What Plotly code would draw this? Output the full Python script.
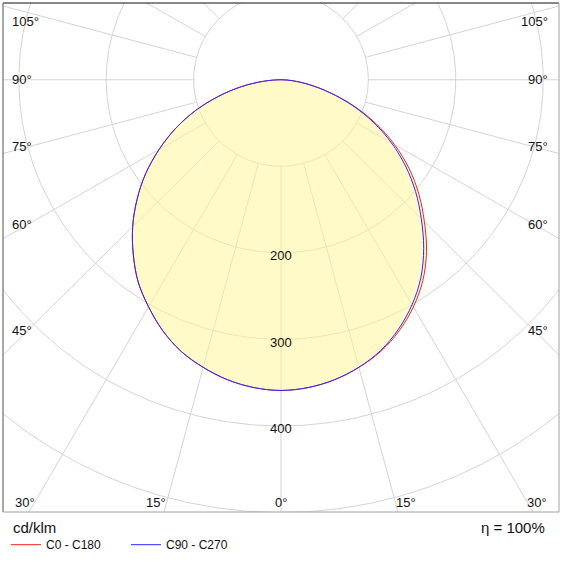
import numpy as np
import plotly.graph_objects as go

# ---------------- data (cd/klm) ----------------
GAMMA = [0, 5, 10, 15, 20, 25, 30, 35, 40, 45, 50, 55, 60, 65, 70, 75, 80, 85, 90]
C0 = [359, 357, 352, 344, 334, 320, 303, 283, 259, 232, 206, 179, 150, 120, 89, 59, 34, 14, 0]
C90 = [359, 357, 352, 344, 333, 318, 300, 279, 254, 227, 201, 174, 146, 117, 87, 58, 33, 13, 0]
C180 = [359, 357, 352, 344, 334, 320, 303, 285, 263, 240, 215, 189, 161, 133, 104, 74, 46, 20, 0]
C270 = [359, 357, 352, 344, 334, 320, 303, 285, 263, 240, 215, 189, 161, 133, 104, 74, 46, 20, 0]
SERIES_NAMES = ["C0 - C180", "C90 - C270"]
RING_VALUES = [100, 200, 300, 400, 500]
RING_LABELS = [200, 300, 400]
SPOKE_ANGLES = list(range(0, 181, 15))
ANGLE_LABELS = [0, 15, 30, 45, 60, 75, 90, 105]
UNIT_TEXT = "cd/klm"
ETA_TEXT = "η = 100%"

# ---------------- geometry ----------------
W = H = 562
BOX_L, BOX_R, BOX_T, BOX_B = 3, 559, 3, 517
CX, CY = 281, 80.5          # pixel position of the luminaire centre
S = 0.874                   # px per cd/klm
X_RANGE = [(BOX_L - CX) / S, (BOX_R - CX) / S]
Y_RANGE = [-(BOX_B - CY) / S, (CY - BOX_T) / S]

FONT = "Liberation Sans, Arial, sans-serif"
GRID = "#d4d4d4"
RED = "#ff2020"
BLUE = "#2a2aff"

g = np.radians(GAMMA)


def closed_curve(right, left):
    r = np.array(right, float)
    l = np.array(left, float)
    xr, yr = r * np.sin(g), -r * np.cos(g)
    xl, yl = -l * np.sin(g), -l * np.cos(g)
    x = np.concatenate([xr[::-1], xl[1:]])
    y = np.concatenate([yr[::-1], yl[1:]])
    return x, y


fig = go.Figure()

# grid rings
t = np.radians(np.linspace(0, 360, 721))
for rv in RING_VALUES:
    fig.add_trace(go.Scatter(x=rv * np.sin(t), y=rv * np.cos(t), mode="lines",
                             line=dict(color=GRID, width=1), hoverinfo="skip",
                             showlegend=False))
# spokes (start at the first ring)
for a in SPOKE_ANGLES:
    for sgn in ([1] if a in (0, 180) else [1, -1]):
        ar = np.radians(a)
        rr = np.array([RING_VALUES[0], 1000])
        fig.add_trace(go.Scatter(x=sgn * rr * np.sin(ar), y=-rr * np.cos(ar), mode="lines",
                                 line=dict(color=GRID, width=1), hoverinfo="skip",
                                 showlegend=False))

# fill under curves
fx, fy = closed_curve(C0, C180)
fig.add_trace(go.Scatter(x=fx, y=fy, mode="lines", fill="toself", line=dict(width=0, shape="spline"),
                         fillcolor="rgba(255,246,150,0.52)", hoverinfo="skip",
                         showlegend=False))

# photometric curves
x1, y1 = closed_curve(C0, C180)
fig.add_trace(go.Scatter(x=x1, y=y1, mode="lines", name=SERIES_NAMES[0],
                         line=dict(color=RED, width=1, shape="spline")))
x2, y2 = closed_curve(C90, C270)
fig.add_trace(go.Scatter(x=x2, y=y2, mode="lines", name=SERIES_NAMES[1],
                         line=dict(color=BLUE, width=1, shape="spline")))

ann = []
# ring value labels along the 0° axis (slightly below the ring)
for rv in RING_LABELS:
    ann.append(dict(x=0, y=-rv - 3 / S, xref="x", yref="y", text=str(rv), showarrow=False,
                    font=dict(size=13, color="#111", family=FONT),
                    xanchor="center", yanchor="middle"))

# angle labels
side_dx = 253 / S           # inset from the centre for side labels (data units)
bottom_dy = (507 - CY) / S  # depth of the bottom label row (data units)
bottom_sp = (503 - CY) / S  # depth where spokes meet the bottom label row
top_limit = (CY - 22) / S
for a in ANGLE_LABELS:
    ar = np.radians(a)
    lab = f"{a}°"
    if a == 0:
        ann.append(dict(x=0, y=-bottom_dy, text=lab, xanchor="center"))
        continue
    y_side = -side_dx / np.tan(ar)
    if -y_side < (BOX_B - 15 - CY) / S:
        y_side = min(y_side, top_limit)
        ann.append(dict(x=(BOX_L + 7 - CX) / S, y=y_side, text=lab, xanchor="left"))
        ann.append(dict(x=(BOX_R - 9 - CX) / S, y=y_side, text=lab, xanchor="right"))
    else:
        xb = bottom_sp * np.tan(ar)
        ann.append(dict(x=-xb, y=-bottom_dy, text=lab, xanchor="right"))
        ann.append(dict(x=xb, y=-bottom_dy, text=lab, xanchor="left"))
for a_ in ann[len(RING_LABELS):]:
    a_.update(xref="x", yref="y", showarrow=False, yanchor="middle",
              font=dict(size=13, color="#111", family=FONT))

# footer texts
ann.append(dict(x=(11 - BOX_L) / (BOX_R - BOX_L), y=(BOX_B - 533) / (BOX_B - BOX_T),
                xref="paper", yref="paper", text=UNIT_TEXT, showarrow=False,
                xanchor="left", yanchor="middle", font=dict(size=15, color="#111", family=FONT)))
ann.append(dict(x=(547 - BOX_L) / (BOX_R - BOX_L), y=(BOX_B - 533) / (BOX_B - BOX_T),
                xref="paper", yref="paper", text=ETA_TEXT, showarrow=False,
                xanchor="right", yanchor="middle", font=dict(size=15, color="#111", family=FONT)))

# frame
shapes = [
    dict(type="line", xref="paper", yref="paper", x0=0, x1=1, y0=1, y1=1, line=dict(color="#111", width=1)),
    dict(type="line", xref="paper", yref="paper", x0=0, x1=0, y0=0, y1=1, line=dict(color="#555", width=1)),
    dict(type="line", xref="paper", yref="paper", x0=1, x1=1, y0=0, y1=1, line=dict(color="#a0a0a0", width=1)),
    dict(type="line", xref="paper", yref="paper", x0=0, x1=1, y0=0, y1=0, line=dict(color="#a0a0a0", width=1)),
]

fig.update_layout(
    width=W, height=H,
    margin=dict(l=BOX_L, r=W - BOX_R, t=BOX_T, b=H - BOX_B, pad=0),
    paper_bgcolor="white", plot_bgcolor="white",
    xaxis=dict(range=X_RANGE, visible=False, fixedrange=True),
    yaxis=dict(range=Y_RANGE, visible=False, fixedrange=True),
    annotations=ann, shapes=shapes,
    showlegend=True,
    legend=dict(orientation="h", x=(6 - BOX_L) / (BOX_R - BOX_L), xanchor="left",
                y=(BOX_B - 550) / (BOX_B - BOX_T),
                yanchor="middle", font=dict(size=12, color="#111", family=FONT),
                entrywidth=75, entrywidthmode="pixels", bgcolor="rgba(0,0,0,0)",
                borderwidth=0),
    font=dict(family=FONT),
)

fig.write_html("out.html", config={"displayModeBar": False},
               post_script="document.body.style.margin='0px';document.body.style.padding='0px';")
